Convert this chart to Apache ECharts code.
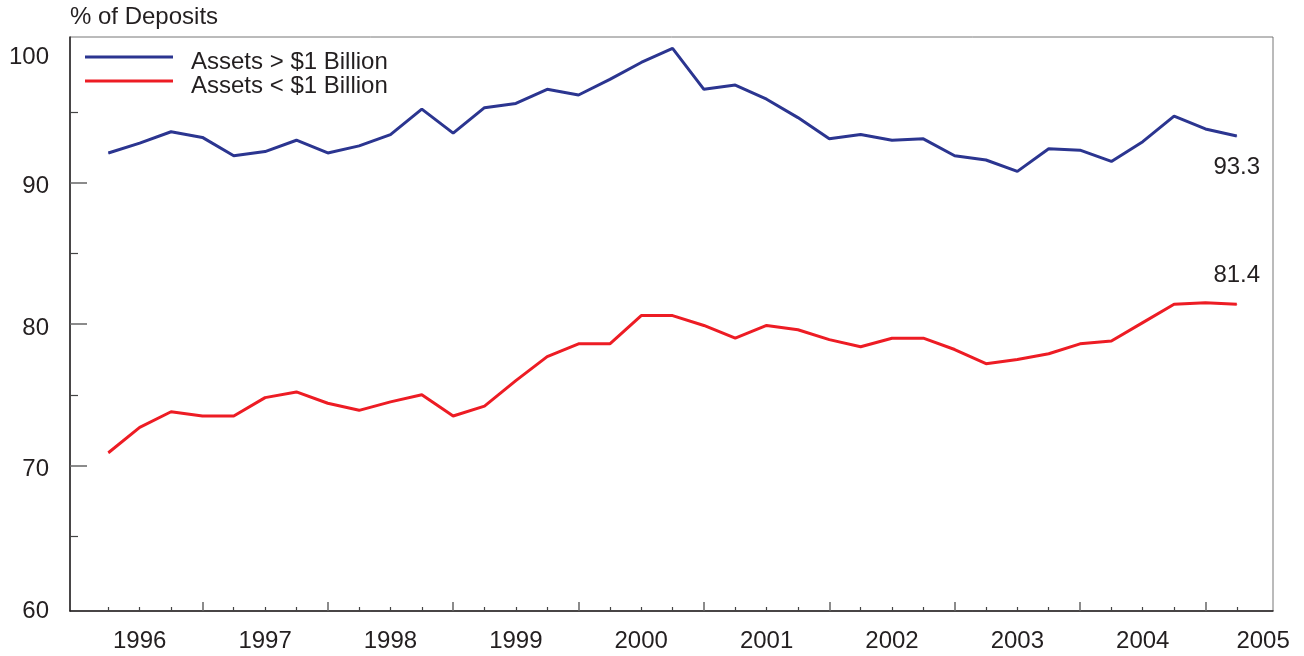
<!DOCTYPE html>
<html><head><meta charset="utf-8">
<script src="https://cdn.jsdelivr.net/npm/echarts@6/dist/echarts.min.js"></script>
<style>html,body{margin:0;padding:0;background:#fff}#c{width:1304px;height:656px}</style>
</head><body><div id="c"></div>
<script>
const quarters = ['1996Q1','1996Q2','1996Q3','1996Q4','1997Q1','1997Q2','1997Q3','1997Q4',
  '1998Q1','1998Q2','1998Q3','1998Q4','1999Q1','1999Q2','1999Q3','1999Q4',
  '2000Q1','2000Q2','2000Q3','2000Q4','2001Q1','2001Q2','2001Q3','2001Q4',
  '2002Q1','2002Q2','2002Q3','2002Q4','2003Q1','2003Q2','2003Q3','2003Q4',
  '2004Q1','2004Q2','2004Q3','2004Q4','2005Q1'];
const largeBanks = [92.1,92.8,93.6,93.2,91.9,92.2,93.0,92.1,92.6,93.4,95.2,93.5,95.3,95.6,96.6,96.2,
  97.3,98.5,99.5,96.6,96.9,95.9,94.6,93.1,93.4,93.0,93.1,91.9,91.6,90.8,92.4,92.3,91.5,92.9,94.7,93.8,93.3];
const smallBanks = [70.9,72.7,73.8,73.5,73.5,74.8,75.2,74.4,73.9,74.5,75.0,73.5,74.2,76.0,77.7,78.6,
  78.6,80.6,80.6,79.9,79.0,79.9,79.6,78.9,78.4,79.0,79.0,78.2,77.2,77.5,77.9,78.6,78.8,80.1,81.4,81.5,81.4];
const yearLabels = [1996,1997,1998,1999,2000,2001,2002,2003,2004,2005];
const yLabelValues = [60,70,80,90,100];
const yLongTicks = [70,80,90];
const yShortTicks = [65,75,85,95];
const seriesNames = ['Assets > $1 Billion','Assets < $1 Billion'];

const FONT = '"Liberation Sans", Arial, Helvetica, sans-serif';
const FS = 24;
const TXT = '#231f20';
const BLUE = '#2b3590';
const RED = '#ed1c24';
const X_MIN = 1995.944, X_MAX = 2005.539;
const Y_MIN = 59.71, Y_MAX = 100.3;

function qpos(s){ return +s.slice(0,4) + (+s.slice(5)) * 0.25; }
const qx = quarters.map(qpos);
const majorX = yearLabels.slice(1);
const minorX = qx.filter(v => Math.abs(v - Math.round(v)) > 1e-6);

function buildData(vals, pos, dist){
  return vals.map((v,i) => {
    if (i === vals.length - 1) {
      return {value:[qx[i], v], label:{show:true, position:pos, distance:dist,
        formatter: v.toFixed(1), fontSize:FS, color:TXT, fontFamily:FONT}};
    }
    return [qx[i], v];
  });
}

function tickAxisX(vals, len, color, width){
  return {type:'value', min:X_MIN, max:X_MAX, position:'bottom', axisLine:{show:false},
    axisTick:{show:true, inside:true, length:len, customValues:vals, lineStyle:{color:color, width:width}},
    axisLabel:{show:false}, splitLine:{show:false}};
}
function tickAxisY(vals, len, color, width){
  return {type:'value', min:Y_MIN, max:Y_MAX, position:'left', axisLine:{show:false},
    axisTick:{show:true, inside:true, length:len, customValues:vals, lineStyle:{color:color, width:width}},
    axisLabel:{show:false}, splitLine:{show:false}};
}

const chart = echarts.init(document.getElementById('c'), null, {renderer:'canvas'});
chart.setOption({
  animation:false,
  backgroundColor:'#fff',
  textStyle:{fontFamily:FONT},
  grid:{left:70, right:31, top:37, bottom:45, show:true, borderColor:'#777', borderWidth:1, containLabel:false},
  legend:{orient:'vertical', left:85, top:40, padding:0, itemWidth:88, itemHeight:3, itemGap:-10, icon:'rect',
    formatter: n => '{a|' + n + '}',
    textStyle:{fontSize:FS, color:TXT, fontFamily:FONT,
      rich:{a:{fontSize:FS, color:TXT, fontFamily:FONT, lineHeight:24, padding:[10,0,0,13]}}},
    data:seriesNames},
  xAxis:[
    {type:'value', min:X_MIN, max:X_MAX, position:'bottom',
     axisLine:{show:true, onZero:false, lineStyle:{color:TXT, width:1.5}},
     axisTick:{show:false},
     axisLabel:{show:true, customValues:yearLabels.map(y => y + 0.5), margin:18, fontSize:FS, color:TXT, fontFamily:FONT,
       formatter: v => { const y = Math.floor(v); return y === 2005 ? '{e|' + y + '}' : String(y); },
       rich:{e:{padding:[0,10,0,0], fontSize:FS, color:TXT, fontFamily:FONT}}},
     splitLine:{show:false}},
    tickAxisX(majorX, 9, '#666', 1.5),
    tickAxisX(minorX, 4, '#444', 1.2)
  ],
  yAxis:[
    {type:'value', min:Y_MIN, max:Y_MAX, position:'left',
     name:'% of Deposits', nameLocation:'end', nameGap:20,
     nameTextStyle:{align:'left', verticalAlign:'middle', fontSize:FS, color:TXT, fontFamily:FONT},
     axisLine:{show:true, onZero:false, lineStyle:{color:TXT, width:1.5}},
     axisTick:{show:false},
     axisLabel:{show:true, customValues:yLabelValues, margin:21, fontSize:FS, color:TXT, fontFamily:FONT,
       formatter: v => v === 100 ? '{t|100}' : '{n|' + v + '}',
       rich:{t:{padding:[32,0,0,0], fontSize:FS, color:TXT, fontFamily:FONT},
             n:{padding:[8,0,0,0], fontSize:FS, color:TXT, fontFamily:FONT}}},
     splitLine:{show:false}},
    tickAxisY(yLongTicks, 17, '#666', 1.5),
    tickAxisY(yShortTicks, 8, '#444', 1.2)
  ],
  series:[
    {name:seriesNames[0], type:'line', xAxisIndex:0, yAxisIndex:0, color:BLUE,
     symbol:'circle', symbolSize:1, showSymbol:true, itemStyle:{color:BLUE},
     lineStyle:{color:BLUE, width:3}, data:buildData(largeBanks, 'bottom', 19), z:3},
    {name:seriesNames[1], type:'line', xAxisIndex:0, yAxisIndex:0, color:RED,
     symbol:'circle', symbolSize:1, showSymbol:true, itemStyle:{color:RED},
     lineStyle:{color:RED, width:3}, data:buildData(smallBanks, 'top', 16), z:3}
  ]
});
</script></body></html>
